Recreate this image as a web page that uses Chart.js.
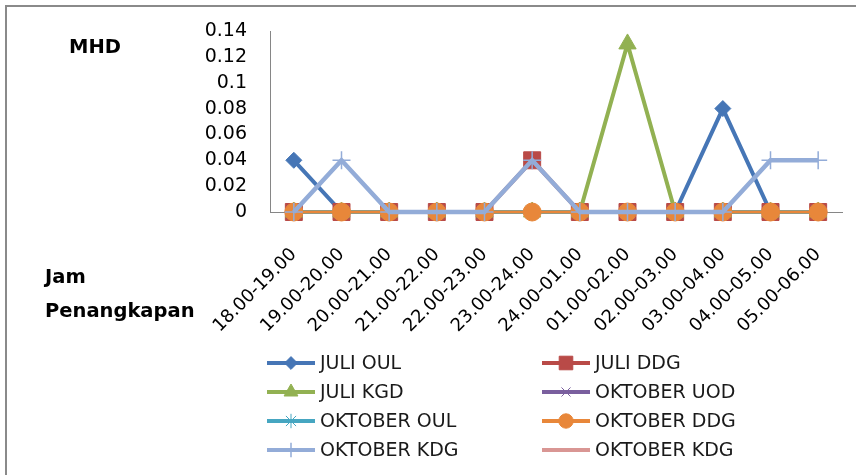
<!DOCTYPE html>
<html>
<head>
<meta charset="utf-8">
<script src="https://cdn.jsdelivr.net/npm/chart.js@4.4.1/dist/chart.umd.min.js"></script>
<style>
  html, body { margin: 0; padding: 0; background: #fff; overflow: hidden; }
  #wadah { position: relative; width: 856px; height: 475px; }
</style>
</head>
<body>
<div id="wadah"><canvas id="grafikMHD"></canvas></div>
<script>
// Kategori jam penangkapan (sumbu X)
const JAM = ['18.00-19.00', '19.00-20.00', '20.00-21.00', '21.00-22.00', '22.00-23.00', '23.00-24.00',
             '24.00-01.00', '01.00-02.00', '02.00-03.00', '03.00-04.00', '04.00-05.00', '05.00-06.00'];
// Label sumbu Y
const LABEL_Y = ['0', '0.02', '0.04', '0.06', '0.08', '0.1', '0.12', '0.14'];

// Nilai MHD per seri
const JULI_OUL    = [0.04, 0, 0, 0, 0, 0, 0, 0, 0, 0.08, 0, 0];
const JULI_DDG    = [0, 0, 0, 0, 0, 0.04, 0, 0, 0, 0, 0, 0];
const JULI_KGD    = [0, 0, 0, 0, 0, 0, 0, 0.13, 0, 0, 0, 0];
const OKTOBER_UOD = [0, 0, 0, 0, 0, 0, 0, 0, 0, 0, 0, 0];
const OKTOBER_OUL = [0, 0, 0, 0, 0, 0, 0, 0, 0, 0, 0, 0];
const OKTOBER_DDG = [0, 0, 0, 0, 0, 0, 0, 0, 0, 0, 0, 0];
const OKTOBER_KDG = [0, 0.04, 0, 0, 0, 0.04, 0, 0, 0, 0, 0.04, 0.04];
const OKTOBER_KDG_B = [null, null, null, null, null, null, null, null, null, null, null, null]; // tidak tampak di grafik

const HURUF = 'DejaVu Sans';

function seri(label, data, warna, gaya, radius, tebalTitik, tebalGaris) {
    return {
        label: label,
        data: data,
        borderColor: warna,
        backgroundColor: warna,
        borderWidth: tebalGaris,
        pointStyle: gaya,
        pointRadius: radius,
        pointHoverRadius: radius,
        pointBorderWidth: tebalTitik,
        pointBorderColor: warna,
        pointBackgroundColor: warna,
        tension: 0,
        clip: false
    };
}

const datasets = [
    seri('JULI OUL', JULI_OUL, '#4676B6', 'rectRot', 8, 1, 4),
    seri('JULI DDG', JULI_DDG, '#B94A47', 'rect', 12, 1, 4),
    seri('JULI KGD', JULI_KGD, '#92B152', 'triangle', 10, 1, 4),
    seri('OKTOBER UOD', OKTOBER_UOD, '#7A5F9E', 'crossRot', 8, 1, 4),
    seri('OKTOBER OUL', OKTOBER_OUL, '#46A6C1', 'star', 9, 1, 4),
    seri('OKTOBER DDG', OKTOBER_DDG, '#E8873A', 'circle', 9, 1, 3),
    seri('OKTOBER KDG', OKTOBER_KDG, '#93ACD8', 'cross', 9, 1.5, 4.5),
    seri('OKTOBER KDG', OKTOBER_KDG_B, '#D99694', false, 0, 0, 4)
];
// seri yang belakangan digambar paling atas (seperti Excel)
datasets.forEach((d, i) => { d.order = datasets.length - i; });

// Plugin: bingkai, judul sumbu dan legenda dua kolom
const hiasan = {
    id: 'hiasan',
    beforeDraw(chart) {
        const ctx = chart.ctx;
        ctx.save();
        ctx.strokeStyle = '#8A8A8A';
        ctx.lineWidth = 2;
        ctx.beginPath();
        ctx.moveTo(6, 475);
        ctx.lineTo(6, 6);
        ctx.lineTo(856, 6);
        ctx.stroke();
        ctx.restore();
    },
    afterDraw(chart) {
        const ctx = chart.ctx;
        ctx.save();
        ctx.fillStyle = '#000';
        ctx.font = 'bold 19.5px "' + HURUF + '"';
        ctx.textAlign = 'left';
        ctx.textBaseline = 'alphabetic';
        ctx.fillText('MHD', 69, 53);
        ctx.fillText('Jam', 45, 283);
        ctx.fillText('Penangkapan', 45, 317);

        const titik = Chart.helpers && Chart.helpers.drawPoint;
        chart.data.datasets.forEach((d, i) => {
            const kol = i % 2;
            const bar = Math.floor(i / 2);
            const x0 = kol ? 542 : 267;
            const y = 363 + bar * 29;
            ctx.strokeStyle = d.borderColor;
            ctx.lineWidth = 4;
            ctx.beginPath();
            ctx.moveTo(x0, y);
            ctx.lineTo(x0 + 48, y);
            ctx.stroke();
            if (titik && d.pointStyle && d.pointRadius > 0) {
                ctx.fillStyle = d.pointBackgroundColor;
                ctx.strokeStyle = d.pointBorderColor;
                ctx.lineWidth = d.pointBorderWidth;
                titik(ctx, { pointStyle: d.pointStyle, rotation: 0, radius: d.pointRadius * 0.8, borderWidth: d.pointBorderWidth }, x0 + 24, y);
            }
            ctx.fillStyle = '#1A1A1A';
            ctx.font = '19px "' + HURUF + '"';
            ctx.textBaseline = 'middle';
            ctx.fillText(d.label, x0 + 53, y + 1);
        });
        ctx.restore();
    }
};

Chart.defaults.font.family = HURUF;
Chart.defaults.color = '#000';

new Chart(document.getElementById('grafikMHD'), {
    type: 'line',
    data: { labels: JAM, datasets: datasets },
    options: {
        responsive: true,
        maintainAspectRatio: false,
        animation: false,
        layout: { padding: { top: 31, right: 14, left: 0, bottom: 0 } },
        plugins: {
            legend: { display: false },
            tooltip: { enabled: false }
        },
        scales: {
            x: {
                offset: true,
                grid: { display: false, drawTicks: false },
                border: { display: true, color: '#868686', width: 1 },
                ticks: {
                    autoSkip: false,
                    maxRotation: 45,
                    minRotation: 45,
                    padding: 32,
                    font: { size: 18 },
                    color: '#000'
                },
                afterFit(scale) {
                    scale.height = 263;
                    scale.paddingLeft = 0;
                    scale.paddingRight = 0;
                }
            },
            y: {
                min: 0,
                max: 0.14,
                grid: { display: false, drawTicks: false },
                border: { display: true, color: '#868686', width: 1 },
                ticks: {
                    autoSkip: false,
                    stepSize: 0.02,
                    padding: 23,
                    font: { size: 19 },
                    color: '#000',
                    callback: (v, i) => LABEL_Y[i]
                },
                afterFit(scale) {
                    scale.width = 270;
                    scale.paddingTop = 0;
                    scale.paddingBottom = 0;
                }
            }
        }
    },
    plugins: [hiasan]
});
</script>
</body>
</html>
